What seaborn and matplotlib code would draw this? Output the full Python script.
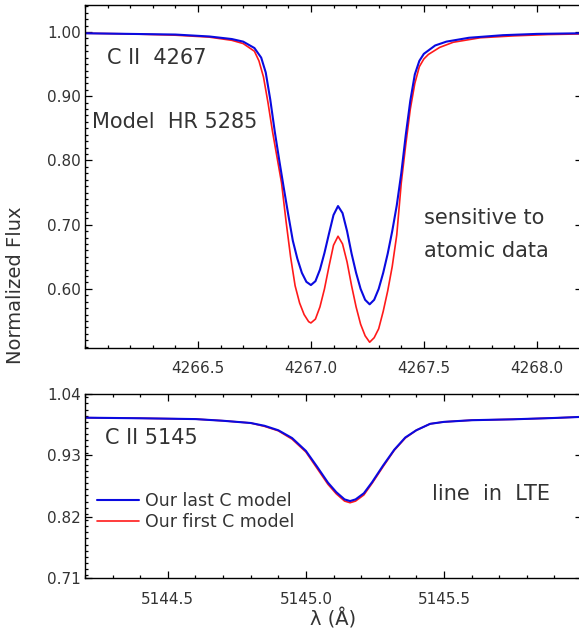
import numpy as np
import pandas as pd
import matplotlib
matplotlib.use("Agg")
import matplotlib.pyplot as plt
from matplotlib.ticker import MultipleLocator, FixedLocator
import seaborn as sns

# ---------------- data ----------------
wl_4267_last = [4266.00, 4266.20, 4266.40, 4266.55, 4266.65, 4266.70, 4266.75, 4266.78,
                4266.80, 4266.82, 4266.84, 4266.86, 4266.88, 4266.90, 4266.92, 4266.94,
                4266.96, 4266.98, 4267.00, 4267.02, 4267.04, 4267.06, 4267.08, 4267.10,
                4267.12, 4267.14, 4267.16, 4267.18, 4267.20, 4267.22, 4267.24, 4267.26,
                4267.28, 4267.30, 4267.32, 4267.34, 4267.36, 4267.38, 4267.40, 4267.42,
                4267.44, 4267.46, 4267.48, 4267.50, 4267.55, 4267.60, 4267.70, 4267.85,
                4268.00, 4268.20]
flux_4267_last = [0.998, 0.997, 0.996, 0.993, 0.989, 0.985, 0.975, 0.960,
                  0.937, 0.895, 0.845, 0.800, 0.757, 0.715, 0.675, 0.647,
                  0.625, 0.611, 0.606, 0.612, 0.630, 0.656, 0.686, 0.715,
                  0.729, 0.718, 0.690, 0.655, 0.625, 0.600, 0.583, 0.576,
                  0.583, 0.600, 0.625, 0.655, 0.690, 0.730, 0.780, 0.840,
                  0.893, 0.934, 0.955, 0.966, 0.979, 0.985, 0.991, 0.995,
                  0.997, 0.998]

wl_4267_first = [4266.00, 4266.20, 4266.40, 4266.55, 4266.65, 4266.70, 4266.75, 4266.77,
                 4266.79, 4266.81, 4266.83, 4266.85, 4266.87, 4266.89, 4266.91, 4266.93,
                 4266.95, 4266.97, 4266.99, 4267.00, 4267.02, 4267.04, 4267.06, 4267.08,
                 4267.10, 4267.12, 4267.14, 4267.16, 4267.18, 4267.20, 4267.22, 4267.24,
                 4267.26, 4267.28, 4267.30, 4267.32, 4267.34, 4267.36, 4267.38, 4267.40,
                 4267.42, 4267.44, 4267.46, 4267.48, 4267.50, 4267.52, 4267.57, 4267.63,
                 4267.75, 4267.90, 4268.05, 4268.20]
flux_4267_first = [0.998, 0.997, 0.995, 0.992, 0.987, 0.982, 0.970, 0.955,
                   0.930, 0.890, 0.845, 0.805, 0.765, 0.705, 0.650, 0.605,
                   0.578, 0.560, 0.549, 0.547, 0.553, 0.572, 0.600, 0.635,
                   0.668, 0.682, 0.670, 0.642, 0.605, 0.572, 0.545, 0.527,
                   0.517, 0.524, 0.538, 0.565, 0.597, 0.635, 0.684, 0.765,
                   0.825, 0.880, 0.920, 0.946, 0.958, 0.965, 0.976, 0.984,
                   0.991, 0.994, 0.996, 0.997]

wl_5145 = [5144.20, 5144.40, 5144.60, 5144.70, 5144.80, 5144.85, 5144.90, 5144.95,
           5145.00, 5145.04, 5145.08, 5145.11, 5145.14, 5145.16, 5145.18, 5145.21,
           5145.24, 5145.28, 5145.32, 5145.36, 5145.40, 5145.45, 5145.50, 5145.60,
           5145.75, 5145.90, 5146.00]
flux_5145_last = [0.9975, 0.9965, 0.995, 0.992, 0.988, 0.983, 0.975, 0.961,
                  0.938, 0.910, 0.881, 0.864, 0.851, 0.848, 0.851, 0.862,
                  0.882, 0.912, 0.940, 0.962, 0.975, 0.9865, 0.990, 0.993,
                  0.9946, 0.997, 0.999]
flux_5145_first = [0.9975, 0.9965, 0.995, 0.992, 0.988, 0.982, 0.974, 0.959,
                   0.936, 0.907, 0.878, 0.861, 0.848, 0.845, 0.848, 0.859,
                   0.880, 0.910, 0.939, 0.961, 0.975, 0.9865, 0.990, 0.993,
                   0.9946, 0.997, 0.999]

model_last = "Our last C model"
model_first = "Our first C model"

top_xticks = [4266.5, 4267.0, 4267.5, 4268.0]
top_yticks = [0.60, 0.70, 0.80, 0.90, 1.00]
bot_xticks = [5144.5, 5145.0, 5145.5]
bot_yticks = [0.71, 0.82, 0.93, 1.04]

df_top = pd.concat([
    pd.DataFrame({"wl": wl_4267_first, "flux": flux_4267_first, "model": model_first}),
    pd.DataFrame({"wl": wl_4267_last, "flux": flux_4267_last, "model": model_last}),
], ignore_index=True)
df_bot = pd.concat([
    pd.DataFrame({"wl": wl_5145, "flux": flux_5145_first, "model": model_first}),
    pd.DataFrame({"wl": wl_5145, "flux": flux_5145_last, "model": model_last}),
], ignore_index=True)

# ---------------- style ----------------
sns.set_style("ticks")
plt.rcParams["font.family"] = ["DejaVu Sans"]
txt_color = "#333333"
plt.rcParams["text.color"] = txt_color
plt.rcParams["xtick.color"] = "black"
plt.rcParams["ytick.color"] = "black"
plt.rcParams["xtick.labelcolor"] = txt_color
plt.rcParams["ytick.labelcolor"] = txt_color

palette = {model_last: "#0a0ae0", model_first: "#ff1a1a"}
hue_order = [model_first, model_last]

W, H = 579, 635
fig = plt.figure(figsize=(W / 100, H / 100), dpi=100)

def px_axes(l, t, r, b):
    return fig.add_axes([l / W, 1 - b / H, (r - l) / W, (b - t) / H])

ax1 = px_axes(85, 5, 582, 348)
ax2 = px_axes(85, 394, 582, 578)

for ax, df in ((ax1, df_top), (ax2, df_bot)):
    sns.lineplot(data=df, x="wl", y="flux", hue="model", hue_order=hue_order,
                 palette=palette, sort=False, estimator=None, ax=ax, legend=False)
    for line in ax.get_lines():
        line.set_solid_joinstyle("round")
        if line.get_color() == palette[model_last]:
            line.set_linewidth(1.5)
        else:
            line.set_linewidth(1.2)

# axes limits & ticks
ax1.set_xlim(4266.0, 4268.2)
ax1.set_ylim(0.508, 1.042)
ax1.xaxis.set_major_locator(FixedLocator(top_xticks))
ax1.set_xticklabels([f"{v:.1f}" for v in top_xticks])
ax1.xaxis.set_minor_locator(MultipleLocator(0.1))
ax1.yaxis.set_major_locator(FixedLocator(top_yticks))
ax1.set_yticklabels([f"{v:.2f}" for v in top_yticks])
ax1.yaxis.set_minor_locator(MultipleLocator(0.01))

ax2.set_xlim(5144.2, 5146.0)
ax2.set_ylim(0.71, 1.04)
ax2.xaxis.set_major_locator(FixedLocator(bot_xticks))
ax2.set_xticklabels([f"{v:.1f}" for v in bot_xticks])
ax2.xaxis.set_minor_locator(MultipleLocator(0.1))
ax2.yaxis.set_major_locator(FixedLocator(bot_yticks))
ax2.set_yticklabels([f"{v:.2f}" for v in bot_yticks])
ax2.yaxis.set_minor_locator(MultipleLocator(0.011))

for ax, xpad in ((ax1, 9), (ax2, 10)):
    ax.set_xlabel("")
    ax.set_ylabel("")
    for s in ax.spines.values():
        s.set_visible(True)
        s.set_linewidth(1.0)
        s.set_color("black")
    ax.tick_params(which="both", direction="in", top=True, right=True, width=0.9)
    ax.tick_params(which="major", length=5)
    ax.tick_params(which="minor", length=2.5)
    ax.tick_params(axis="x", which="major", pad=xpad, labelsize=11)
    ax.tick_params(axis="y", which="major", pad=3, labelsize=11)

# annotations
fs_ann = 15
ax1.text(0.0443, 0.845, "C II  4267", transform=ax1.transAxes, fontsize=fs_ann, va="center", ha="left")
ax1.text(0.014, 0.659, "Model  HR 5285", transform=ax1.transAxes, fontsize=fs_ann, va="center", ha="left")
ax1.text(0.682, 0.379, "sensitive to", transform=ax1.transAxes, fontsize=fs_ann, va="center", ha="left")
ax1.text(0.682, 0.283, "atomic data", transform=ax1.transAxes, fontsize=fs_ann, va="center", ha="left")
ax2.text(0.040, 0.761, "C II 5145", transform=ax2.transAxes, fontsize=fs_ann, va="center", ha="left")
ax2.text(0.698, 0.4565, "line  in  LTE", transform=ax2.transAxes, fontsize=fs_ann, va="center", ha="left")

# legend (last model first)
lines = {l.get_color(): l for l in ax2.get_lines()}
handles = [lines[palette[model_last]], lines[palette[model_first]]]
ax2.legend(handles, [model_last, model_first], loc="center left",
           bbox_to_anchor=(0.024, 0.361), frameon=False, fontsize=12.5,
           handlelength=2.4, handletextpad=0.35, labelspacing=0.16,
           borderpad=0, borderaxespad=0)

ax2.set_xlabel("λ (Å)", fontsize=14, labelpad=1, color=txt_color)
fig.text(16 / W, 1 - 285 / H, "Normalized Flux", rotation=90, fontsize=14,
         va="center", ha="center", color=txt_color)

fig.savefig("out.png", dpi=100)
